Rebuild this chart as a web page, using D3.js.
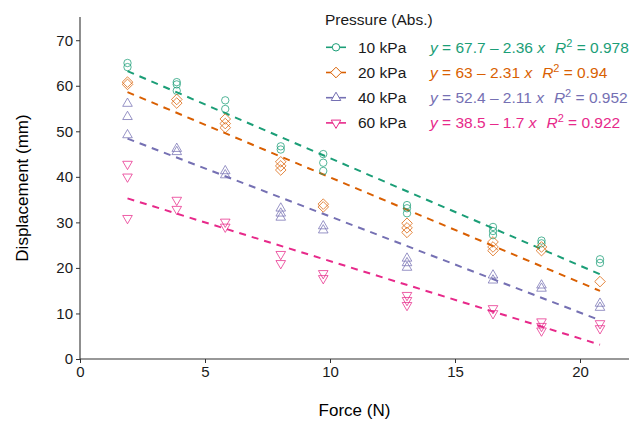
<!DOCTYPE html>
<html>
<head>
<meta charset="utf-8">
<script src="https://cdn.jsdelivr.net/npm/d3@7"></script>
<style>
  body { margin: 0; background: #fff; }
  svg { font-family: "Liberation Sans", Arial, sans-serif; }
</style>
</head>
<body>
<div class="chart"></div>
<script>
// data
const forces = [1.9, 3.87, 5.81, 8.03, 9.73, 13.08, 16.52, 18.46, 20.8];
const pressures = ["10 kPa", "20 kPa", "40 kPa", "60 kPa"];

const disp10 = [[65.0, 64.1], [60.8, 60.3, 58.9], [56.8, 54.9], [46.7, 46.0], [45.0, 43.1, 41.3],
  [33.8, 33.1, 32.0], [29.0, 28.1, 27.2], [26.0, 25.4], [21.9, 21.1]];
const disp20 = [[60.8, 60.3], [57.0, 56.2], [52.7, 51.7, 50.8], [43.3, 42.4, 41.5], [34.0, 33.4],
  [29.8, 28.8, 27.8], [25.7, 24.6, 23.8], [24.6, 23.8], [17.0]];
const disp40 = [[56.1, 53.2, 49.2], [46.2, 45.5], [41.3, 40.4], [33.1, 32.0, 31.1], [29.2, 28.3],
  [22.1, 21.1, 20.1], [18.4, 17.3], [16.2, 15.5], [12.2, 11.3]];
const disp60 = [[42.8, 40.0, 30.9], [34.9, 32.9], [30.1, 29.0], [23.0, 21.0], [18.8, 17.7],
  [14.0, 12.9, 11.8], [11.1, 10.0], [8.2, 7.2, 6.2], [7.8, 6.7]];

// fitted lines as printed in the legend
const intercepts = [67.7, 63, 52.4, 38.5];
const slopes = [2.36, 2.31, 2.11, 1.7];
const rsq = ["0.978", "0.94", "0.952", "0.922"];

const xTicks = [0, 5, 10, 15, 20];
const yTicks = [0, 10, 20, 30, 40, 50, 60, 70];

const colors = ["#1B9E77", "#D95F02", "#7570B3", "#E7298A"];
const shapes = ["circle", "diamond", "triangle", "triangleDown"];
const allDisp = [disp10, disp20, disp40, disp60];

const margin = { top: 17, right: 13, bottom: 66, left: 80 };
const width = 642 - margin.left - margin.right,
  height = 425 - margin.top - margin.bottom;

const svg = d3.select(".chart").append("svg")
  .attr("width", 642)
  .attr("height", 425)
  .append("g")
  .attr("transform", `translate(${margin.left}, ${margin.top})`);

const xScale = d3.scaleLinear().domain([0, 21.96]).range([0, width]);
const yScale = d3.scaleLinear().domain([0, 75.1]).range([height, 0]);

function shapePath(shape) {
  if (shape === "circle") return "M3.7,0A3.7,3.7 0 1,1 -3.7,0A3.7,3.7 0 1,1 3.7,0Z";
  if (shape === "diamond") return "M0,-5.3L5.3,0L0,5.3L-5.3,0Z";
  if (shape === "triangle") return "M0,-5.5L4.8,2.8L-4.8,2.8Z";
  return "M0,5.5L4.8,-2.8L-4.8,-2.8Z";
}

// fitted dashed lines
pressures.forEach((p, i) => {
  const x0 = d3.min(forces), x1 = d3.max(forces);
  svg.append("line")
    .attr("x1", xScale(x0))
    .attr("y1", yScale(intercepts[i] - slopes[i] * x0))
    .attr("x2", xScale(x1))
    .attr("y2", yScale(intercepts[i] - slopes[i] * x1))
    .attr("stroke", colors[i])
    .attr("stroke-width", 2)
    .attr("stroke-dasharray", "7,6");
});

// points
pressures.forEach((p, i) => {
  const pts = [];
  allDisp[i].forEach((vals, j) => vals.forEach(v => pts.push({ x: forces[j], y: v })));
  svg.selectAll(".pt" + i)
    .data(pts)
    .enter()
    .append("path")
    .attr("class", "pt" + i)
    .attr("d", shapePath(shapes[i]))
    .attr("transform", d => `translate(${xScale(d.x)}, ${yScale(d.y)})`)
    .attr("fill", "none")
    .attr("stroke", colors[i])
    .attr("stroke-opacity", 0.75)
    .attr("stroke-width", 1);
});

// axes
const xAxis = d3.axisBottom(xScale).tickValues(xTicks).tickSize(4).tickPadding(3);
const yAxis = d3.axisLeft(yScale).tickValues(yTicks).tickSize(4).tickPadding(3);

svg.append("g")
  .attr("class", "x-axis")
  .attr("transform", `translate(0, ${height})`)
  .call(xAxis);
svg.append("g")
  .attr("class", "y-axis")
  .call(yAxis);

svg.selectAll(".x-axis .domain, .y-axis .domain")
  .attr("d", function () {
    return this.parentNode.classList.contains("x-axis") ? `M0,0H${width}` : `M0,${height}V0`;
  })
  .attr("stroke", "#333")
  .attr("stroke-width", 1.1);
svg.selectAll(".tick line").attr("stroke", "#333");
svg.selectAll(".tick text")
  .attr("font-size", 15)
  .attr("fill", "#1a1a1a")
  .attr("font-family", "Liberation Sans, Arial, sans-serif");

// axis titles
svg.append("text")
  .attr("x", width / 2)
  .attr("y", height + 57)
  .attr("text-anchor", "middle")
  .attr("font-size", 17)
  .text("Force (N)");

svg.append("text")
  .attr("transform", `translate(${-52}, ${height / 2}) rotate(-90)`)
  .attr("text-anchor", "middle")
  .attr("font-size", 17)
  .text("Displacement (mm)");

// legend
const legend = d3.select("svg").append("g").attr("transform", "translate(325, 0)");
legend.append("text")
  .attr("x", 0)
  .attr("y", 25)
  .attr("font-size", 15.5)
  .attr("fill", "#1a1a1a")
  .text("Pressure (Abs.)");

pressures.forEach((p, i) => {
  const yy = 47.3 + i * 25.2;
  const row = legend.append("g").attr("transform", `translate(0, ${yy})`);
  row.append("line")
    .attr("x1", 1).attr("x2", 21)
    .attr("stroke", colors[i]).attr("stroke-width", 1.6);
  row.append("path")
    .attr("d", shapePath(shapes[i]))
    .attr("transform", "translate(11, 0)")
    .attr("fill", "#fff")
    .attr("stroke", colors[i])
    .attr("stroke-width", 1);
  row.append("text")
    .attr("x", 33).attr("y", 5.5)
    .attr("font-size", 15.5)
    .attr("fill", "#1a1a1a")
    .text(p);

  const eq = row.append("text")
    .attr("x", 105).attr("y", 5.5)
    .attr("font-size", 15.5)
    .attr("fill", colors[i]);
  eq.append("tspan").attr("font-style", "italic").text("y");
  eq.append("tspan").text(` = ${intercepts[i]} \u2013 ${slopes[i]} `);
  eq.append("tspan").attr("font-style", "italic").text("x");
  eq.append("tspan").attr("dx", 10).attr("font-style", "italic").text("R");
  eq.append("tspan").attr("dy", -6).attr("font-size", 11).text("2");
  eq.append("tspan").attr("dy", 6).text(` = ${rsq[i]}`);
});
</script>
</body>
</html>
